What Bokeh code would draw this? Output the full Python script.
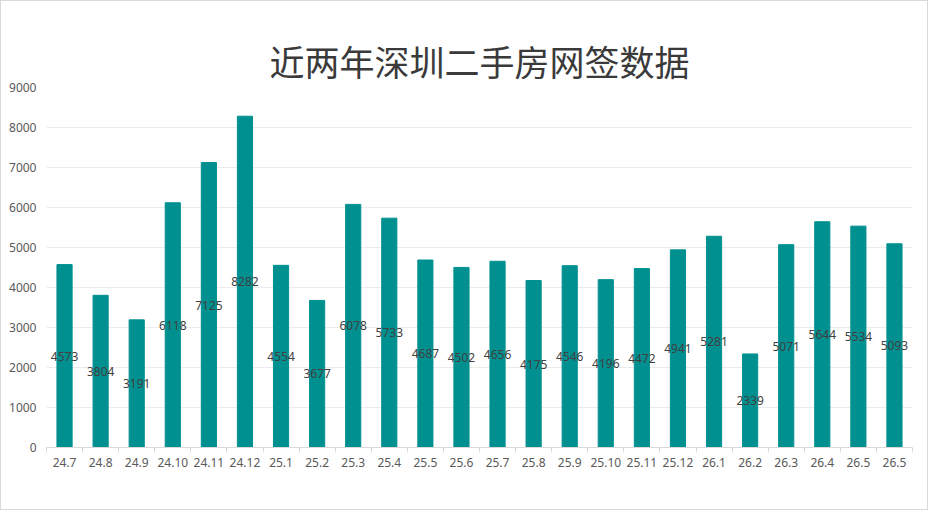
from bokeh.plotting import figure
from bokeh.models import ColumnDataSource, FixedTicker, Range1d
from bokeh.core.properties import value
from bokeh.embed import file_html
from bokeh.resources import INLINE

title_text = "近两年深圳二手房网签数据"
months = ["24.7", "24.8", "24.9", "24.10", "24.11", "24.12",
          "25.1", "25.2", "25.3", "25.4", "25.5", "25.6",
          "25.7", "25.8", "25.9", "25.10", "25.11", "25.12",
          "26.1", "26.2", "26.3", "26.4", "26.5", "26.5"]
deals = [4573, 3804, 3191, 6118, 7125, 8282,
         4554, 3677, 6078, 5733, 4687, 4502,
         4656, 4175, 4546, 4196, 4472, 4941,
         5281, 2339, 5071, 5644, 5534, 5093]
y_ticks = [0, 1000, 2000, 3000, 4000, 5000, 6000, 7000, 8000, 9000]

n = len(months)
idx = list(range(n))
src = ColumnDataSource(dict(
    x=idx,
    top=deals,
    mid=[v / 2 for v in deals],
    label=[str(v) for v in deals],
))

p = figure(width=928, height=510, output_backend="svg", toolbar_location=None,
           x_range=Range1d(-0.5, n - 0.5), y_range=Range1d(0, 9000),
           min_border_left=45, min_border_right=17, min_border_top=86,
           min_border_bottom=64)
p.outline_line_color = None
p.background_fill_color = "white"
p.border_fill_color = "white"

p.title.text = title_text
p.title.align = "center"
p.title.text_font = "Noto Sans CJK SC"
p.title.text_font_size = "35px"
p.title.text_font_style = "normal"
p.title.text_color = "#3a3a3a"
p.title.standoff = 4

p.vbar(x="x", top="top", width=0.42, source=src, color="#009090")
p.text(x="x", y="mid", text="label", source=src, text_align="center",
       text_baseline="middle", text_font=value("Noto Sans"),
       text_font_size="12px", text_color="#404040")

# x axis
xa = p.xaxis[0]
xa.ticker = FixedTicker(ticks=idx, minor_ticks=[i - 0.5 for i in range(n + 1)])
xa.major_label_overrides = {i: m for i, m in zip(idx, months)}
xa.major_tick_out = 0
xa.major_tick_in = 0
xa.minor_tick_out = 5
xa.minor_tick_in = 0
xa.minor_tick_line_color = "#d9d9d9"
xa.axis_line_color = "#d9d9d9"
xa.major_label_text_font = "Noto Sans"
xa.major_label_text_font_size = "12px"
xa.major_label_text_color = "#595959"
xa.major_label_standoff = 5

# y axis
ya = p.yaxis[0]
ya.ticker = FixedTicker(ticks=y_ticks)
ya.axis_line_color = None
ya.major_tick_line_color = None
ya.minor_tick_line_color = None
ya.major_label_text_font = "Noto Sans"
ya.major_label_text_font_size = "12px"
ya.major_label_text_color = "#595959"
ya.major_label_standoff = 4

p.xgrid.grid_line_color = None
p.ygrid.grid_line_color = "#ebebeb"
p.ygrid.ticker = FixedTicker(ticks=y_ticks)

p.styles = {"border": "1px solid #d9d9d9"}

open("out.html", "w").write(file_html(p, INLINE))
